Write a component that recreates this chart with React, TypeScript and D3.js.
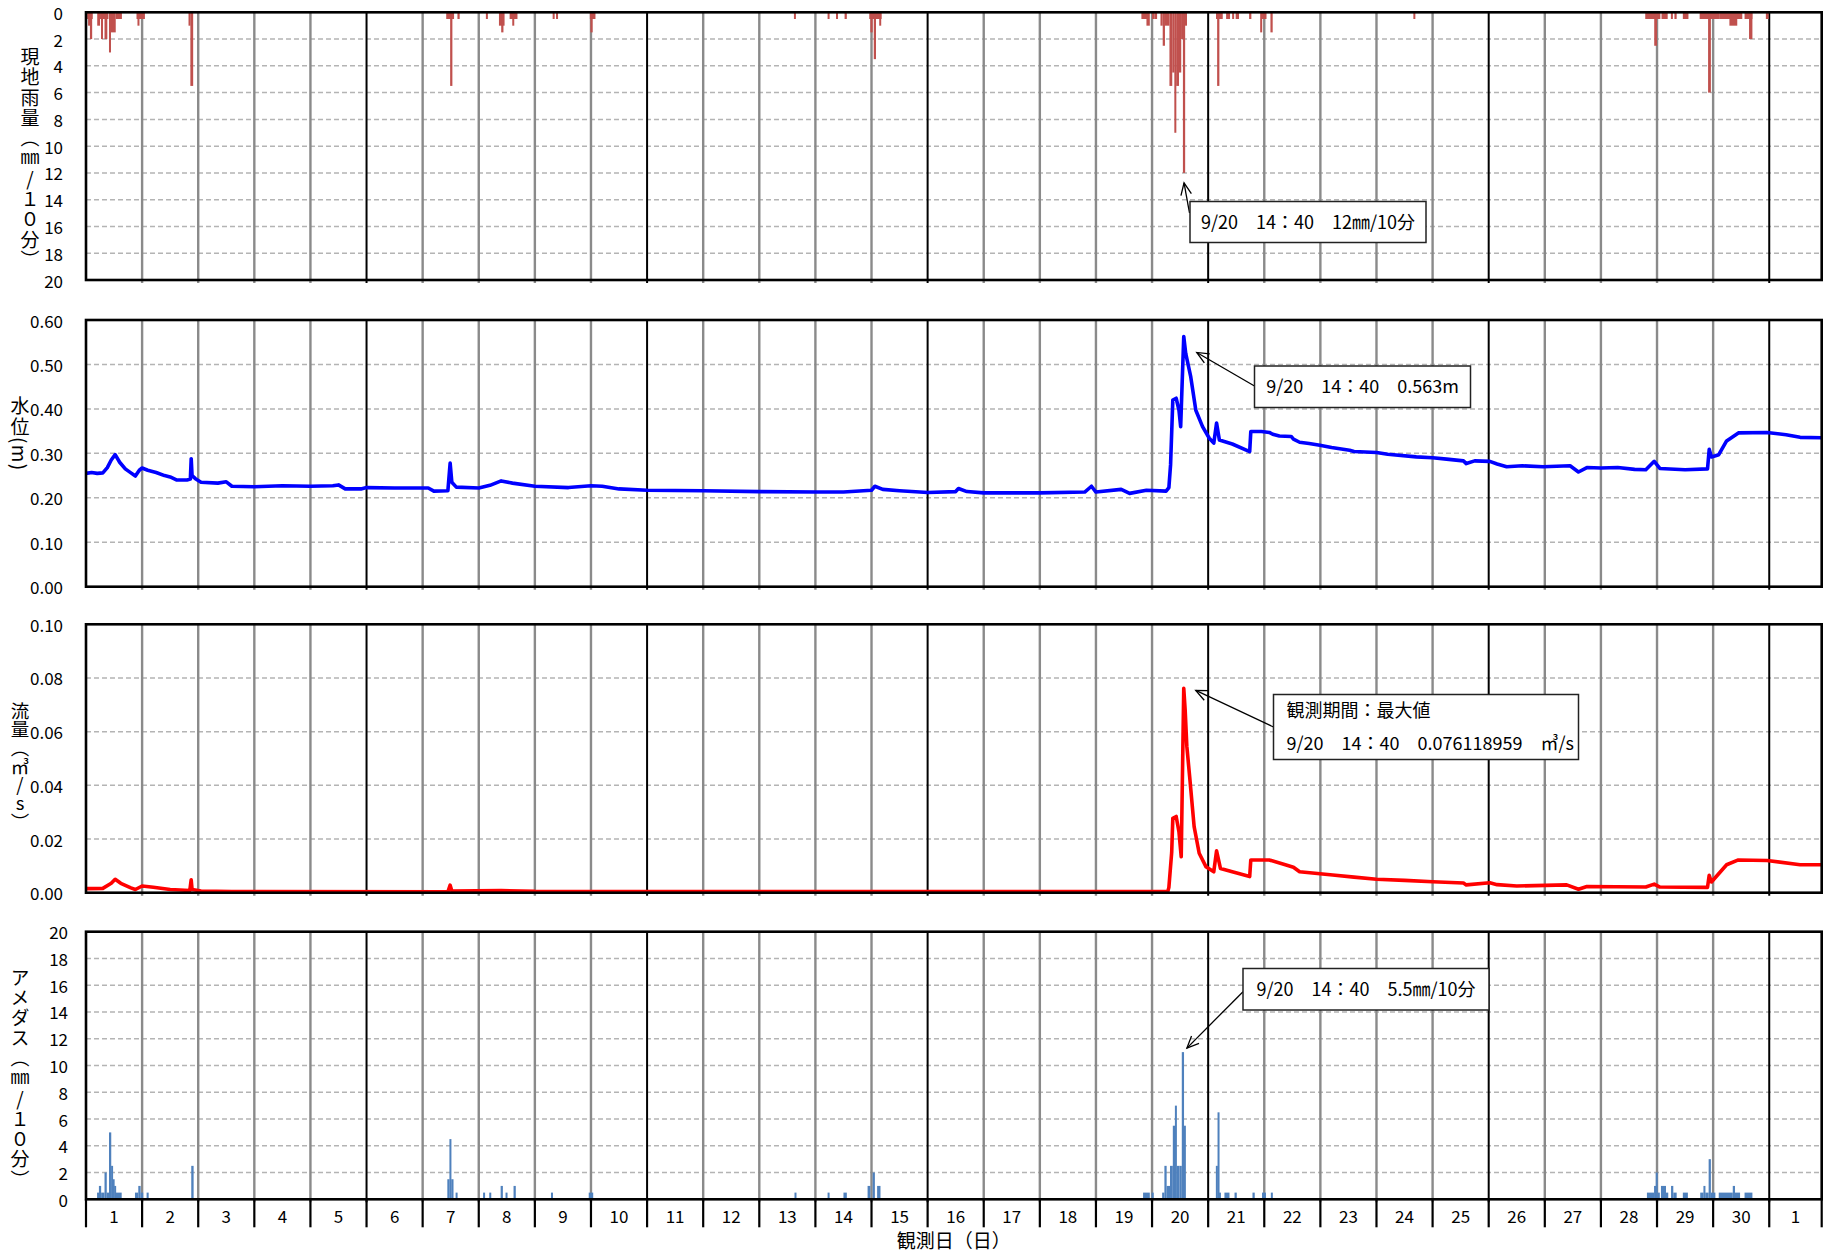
import React from "react";
import * as d3 from "d3";

const FONT = '"Noto Sans CJK JP", "Noto Sans", sans-serif';

// Time is given in elapsed days from 9/1 00:00.
const DAY_LABELS = [
  "1", "2", "3", "4", "5", "6", "7", "8", "9", "10",
  "11", "12", "13", "14", "15", "16", "17", "18", "19", "20",
  "21", "22", "23", "24", "25", "26", "27", "28", "29", "30", "1",
];
const X_END = 30.935; // last sample on 10/1

const RAIN_TICKS = [0, 2, 4, 6, 8, 10, 12, 14, 16, 18, 20];
const LEVEL_TICKS = [0, 0.1, 0.2, 0.3, 0.4, 0.5, 0.6];
const FLOW_TICKS = [0, 0.02, 0.04, 0.06, 0.08, 0.1];
const AMEDAS_TICKS = [0, 2, 4, 6, 8, 10, 12, 14, 16, 18, 20];

// On-site rainfall (mm/10min): [start, end, value]
const RAIN_SITE: [number, number, number][] = [
  [0.02, 0.12, 0.5], [0.04, 0.07, 1.0], [0.07, 0.11, 2.0],
  [0.20, 0.25, 1.0], [0.25, 0.40, 0.5], [0.27, 0.30, 2.0], [0.33, 0.38, 2.0],
  [0.41, 0.445, 3.0], [0.445, 0.53, 1.5], [0.53, 0.64, 0.5],
  [0.90, 1.05, 0.5], [0.92, 0.95, 1.0],
  [1.83, 1.86, 1.0], [1.86, 1.91, 5.5],
  [6.42, 6.56, 0.5], [6.49, 6.53, 5.5], [6.62, 6.66, 0.5],
  [7.13, 7.16, 0.5], [7.36, 7.46, 1.0], [7.40, 7.44, 1.5],
  [7.55, 7.69, 0.5], [7.60, 7.63, 1.0],
  [8.32, 8.35, 0.5], [8.38, 8.41, 0.5],
  [8.98, 9.08, 0.5], [8.99, 9.03, 1.5],
  [12.62, 12.65, 0.5], [13.22, 13.25, 0.5], [13.37, 13.40, 0.5], [13.52, 13.56, 0.5],
  [13.96, 14.18, 0.5], [13.98, 14.02, 1.5], [14.04, 14.08, 3.5], [14.14, 14.17, 1.0],
  [18.81, 18.93, 0.5], [18.90, 18.96, 1.0], [19.00, 19.04, 0.5], [19.04, 19.09, 0.5],
  [19.15, 19.19, 1.0], [19.19, 19.23, 2.5], [19.23, 19.31, 1.0],
  [19.31, 19.36, 5.5], [19.36, 19.40, 4.5], [19.40, 19.43, 9.0],
  [19.43, 19.48, 5.5], [19.48, 19.52, 4.5], [19.52, 19.55, 2.0],
  [19.55, 19.59, 12.0], [19.59, 19.62, 1.0],
  [20.14, 20.26, 0.5], [20.16, 20.20, 5.5],
  [20.32, 20.39, 0.5], [20.43, 20.46, 0.5], [20.49, 20.55, 0.5],
  [20.73, 20.77, 0.5], [20.93, 20.96, 1.5], [20.96, 21.04, 0.5], [21.11, 21.15, 1.5],
  [23.66, 23.69, 0.5],
  [27.79, 28.06, 0.5], [27.95, 28.00, 2.5], [28.08, 28.19, 0.5],
  [28.25, 28.28, 0.5], [28.31, 28.35, 0.5], [28.46, 28.56, 0.5],
  [28.76, 29.12, 0.5], [28.91, 28.96, 6.0],
  [29.12, 29.52, 0.5], [29.29, 29.43, 1.0],
  [29.56, 29.70, 0.5], [29.64, 29.70, 2.0], [29.94, 29.99, 0.5],
];

// Water level (m): [time, value]
const WATER_LEVEL: [number, number][] = [
  [0.0, 0.255], [0.1, 0.257], [0.2, 0.255], [0.3, 0.256], [0.38, 0.268],
  [0.45, 0.285], [0.52, 0.297], [0.6, 0.28], [0.7, 0.265], [0.8, 0.256],
  [0.88, 0.249], [0.95, 0.262], [1.0, 0.267], [1.1, 0.262], [1.25, 0.257],
  [1.4, 0.25], [1.5, 0.247], [1.62, 0.24], [1.8, 0.24], [1.86, 0.242],
  [1.875, 0.288], [1.89, 0.25], [1.95, 0.243], [2.05, 0.235], [2.35, 0.233],
  [2.5, 0.236], [2.6, 0.226], [3.0, 0.225], [3.5, 0.227], [4.0, 0.226], [4.4, 0.227], [4.5, 0.229],
  [4.62, 0.22], [4.9, 0.22], [5.0, 0.223], [5.5, 0.222], [6.1, 0.222], [6.2, 0.215],
  [6.45, 0.216], [6.49, 0.278], [6.52, 0.235], [6.6, 0.224], [7.0, 0.222],
  [7.2, 0.228], [7.4, 0.238], [7.6, 0.233], [8.0, 0.226], [8.6, 0.223],
  [9.0, 0.227], [9.2, 0.226], [9.5, 0.22], [10.0, 0.217], [11.0, 0.216],
  [12.0, 0.214], [13.0, 0.213], [13.5, 0.213], [14.0, 0.217], [14.06, 0.226],
  [14.2, 0.219], [14.5, 0.216], [15.0, 0.212], [15.5, 0.214], [15.55, 0.221],
  [15.7, 0.214], [16.0, 0.211], [17.0, 0.211], [17.8, 0.213], [17.92, 0.226],
  [18.0, 0.213], [18.45, 0.219], [18.6, 0.21], [18.9, 0.217], [19.25, 0.215],
  [19.3, 0.223], [19.33, 0.274], [19.37, 0.42], [19.43, 0.424], [19.48, 0.397],
  [19.51, 0.36], [19.565, 0.563], [19.6, 0.525], [19.69, 0.472], [19.78, 0.397],
  [19.9, 0.36], [20.02, 0.334], [20.1, 0.323], [20.15, 0.368], [20.2, 0.33],
  [20.43, 0.321], [20.74, 0.304], [20.76, 0.349], [20.95, 0.349], [21.09, 0.347],
  [21.15, 0.343], [21.27, 0.339], [21.48, 0.338], [21.52, 0.332], [21.63, 0.325],
  [21.8, 0.322], [21.99, 0.318], [22.2, 0.313], [22.52, 0.307], [22.6, 0.304],
  [23.0, 0.302], [23.2, 0.298], [23.71, 0.292], [24.0, 0.29], [24.25, 0.287],
  [24.55, 0.283], [24.6, 0.277], [24.75, 0.283], [25.02, 0.282], [25.15, 0.276],
  [25.32, 0.27], [25.6, 0.272], [25.97, 0.27], [26.45, 0.272], [26.6, 0.258],
  [26.75, 0.268], [27.0, 0.267], [27.3, 0.268], [27.6, 0.264], [27.8, 0.263],
  [27.95, 0.282], [28.05, 0.266], [28.5, 0.263], [28.9, 0.265], [28.93, 0.309],
  [28.97, 0.292], [29.1, 0.297], [29.24, 0.328], [29.45, 0.346], [29.96, 0.347],
  [30.3, 0.342], [30.55, 0.336], [30.93, 0.335],
];

// Discharge (m3/s): [time, value]
const FLOW: [number, number][] = [
  [0.0, 0.0015], [0.3, 0.0016], [0.45, 0.0035], [0.52, 0.005], [0.62, 0.0035],
  [0.8, 0.0018], [0.88, 0.0012], [1.0, 0.0025], [1.2, 0.002], [1.5, 0.0012],
  [1.85, 0.0008], [1.875, 0.0048], [1.89, 0.0012], [2.05, 0.0006], [2.6, 0.0004],
  [6.45, 0.0003], [6.49, 0.0028], [6.52, 0.0006], [7.4, 0.0008], [8.0, 0.0005],
  [19.28, 0.0004], [19.3, 0.002], [19.35, 0.015], [19.37, 0.0277], [19.43, 0.0284],
  [19.48, 0.0226], [19.52, 0.0134], [19.565, 0.076118959], [19.59, 0.0681],
  [19.62, 0.0545], [19.67, 0.0433], [19.75, 0.0246], [19.84, 0.0147], [19.96, 0.0097],
  [20.1, 0.0078], [20.15, 0.0156], [20.22, 0.009], [20.43, 0.0078], [20.74, 0.006],
  [20.76, 0.0122], [20.95, 0.0122], [21.09, 0.0122], [21.39, 0.0103], [21.52, 0.0095],
  [21.63, 0.0078], [22.22, 0.0066], [22.6, 0.0058], [23.0, 0.005], [23.5, 0.0046],
  [24.0, 0.0041], [24.55, 0.0036], [24.6, 0.0029], [25.02, 0.0037], [25.15, 0.003],
  [25.5, 0.0025], [26.39, 0.0029], [26.6, 0.0013], [26.75, 0.0023], [27.8, 0.0021],
  [27.95, 0.0032], [28.05, 0.0021], [28.9, 0.002], [28.93, 0.0065], [28.97, 0.004],
  [29.24, 0.0104], [29.45, 0.0122], [29.96, 0.012], [30.55, 0.0104], [30.93, 0.0104],
];

// AMeDAS rainfall (mm/10min): [start, end, value]
const AMEDAS: [number, number, number][] = [
  [0.20, 0.23, 0.5], [0.23, 0.27, 1.0], [0.27, 0.33, 0.5], [0.33, 0.37, 2.0],
  [0.37, 0.41, 0.5], [0.41, 0.45, 5.0], [0.45, 0.48, 2.5], [0.48, 0.505, 1.5],
  [0.505, 0.534, 1.0], [0.534, 0.636, 0.5],
  [0.873, 0.932, 0.5], [0.932, 0.974, 1.0], [0.974, 1.02, 0.5], [1.08, 1.117, 0.5],
  [1.876, 1.918, 2.5],
  [6.44, 6.48, 1.5], [6.48, 6.51, 4.5], [6.51, 6.55, 1.5], [6.59, 6.62, 0.5],
  [7.08, 7.11, 0.5], [7.19, 7.22, 0.5], [7.39, 7.43, 1.0], [7.48, 7.51, 0.5],
  [7.62, 7.66, 1.0], [8.29, 8.32, 0.5], [8.96, 9.04, 0.5],
  [12.63, 12.66, 0.5], [13.22, 13.25, 0.5], [13.5, 13.56, 0.5],
  [13.93, 13.98, 1.0], [14.02, 14.06, 2.0], [14.1, 14.16, 1.0],
  [18.84, 18.96, 0.5], [18.99, 19.03, 0.5], [19.18, 19.22, 0.5], [19.22, 19.26, 2.5],
  [19.26, 19.32, 1.0], [19.32, 19.37, 2.5], [19.37, 19.41, 5.5], [19.41, 19.44, 7.0],
  [19.44, 19.49, 2.5], [19.49, 19.53, 2.5], [19.53, 19.57, 11.0], [19.57, 19.6, 5.5],
  [20.14, 20.17, 2.5], [20.17, 20.2, 6.5], [20.2, 20.22, 0.5], [20.29, 20.38, 0.5],
  [20.47, 20.51, 0.5], [20.79, 20.83, 0.5], [20.96, 21.03, 0.5], [21.12, 21.15, 0.5],
  [27.82, 27.95, 0.5], [27.95, 27.98, 1.0], [27.98, 28.01, 2.0], [28.01, 28.05, 0.5],
  [28.07, 28.16, 1.0], [28.16, 28.2, 0.5], [28.25, 28.29, 1.0], [28.29, 28.35, 0.5],
  [28.46, 28.55, 0.5], [28.77, 28.83, 0.5], [28.83, 28.86, 1.0], [28.86, 28.92, 0.5],
  [28.92, 28.96, 3.0], [28.96, 29.04, 0.5], [29.1, 29.35, 0.5], [29.35, 29.39, 1.0],
  [29.39, 29.48, 0.5], [29.56, 29.7, 0.5],
];

const PEAK_T = 19.565;

const LEFT = 86;
const RIGHT = 1821.7;
const PANELS = {
  rain: { top: 12.3, bottom: 280 },
  level: { top: 320, bottom: 586.7 },
  flow: { top: 624.3, bottom: 892.7 },
  amedas: { top: 931.7, bottom: 1199.3 },
};

const xs = d3.scaleLinear().domain([0, X_END]).range([LEFT, RIGHT]);
const yRain = d3.scaleLinear().domain([0, 20]).range([PANELS.rain.top, PANELS.rain.bottom]);
const yLevel = d3.scaleLinear().domain([0, 0.6]).range([PANELS.level.bottom, PANELS.level.top]);
const yFlow = d3.scaleLinear().domain([0, 0.1]).range([PANELS.flow.bottom, PANELS.flow.top]);
const yAmedas = d3.scaleLinear().domain([0, 20]).range([PANELS.amedas.bottom, PANELS.amedas.top]);

const dayBounds = d3.range(1, 31);

// Vertical axis title, typeset top-to-bottom.
function VLabel({
  x, y, text, size = 19, spacing = 1.3, orientation = "upright",
}: { x: number; y: number; text: string; size?: number; spacing?: number; orientation?: "upright" | "mixed" }) {
  return (
    <text
      x={x}
      y={y}
      fontFamily={FONT}
      fontSize={size}
      fill="#000"
      textAnchor="middle"
      letterSpacing={spacing}
      style={{ writingMode: "vertical-rl", textOrientation: orientation } as React.CSSProperties}
    >
      {text}
    </text>
  );
}

function Grid({ top, bottom, y, ticks }: { top: number; bottom: number; y: (v: number) => number; ticks: number[] }) {
  return (
    <g>
      {ticks.slice(1, -1).map((t) => (
        <line key={"h" + t} x1={LEFT} x2={RIGHT} y1={y(t)} y2={y(t)} stroke="#b4b4b4" strokeWidth={1.5} strokeDasharray="5 3" />
      ))}
      {dayBounds.map((d) => (
        <line
          key={"v" + d}
          x1={xs(d)}
          x2={xs(d)}
          y1={top}
          y2={bottom + 3}
          stroke={d % 5 === 0 ? "#000" : "#8a8a8a"}
          strokeWidth={d % 5 === 0 ? 2 : 2.4}
        />
      ))}
    </g>
  );
}

function Frame({ top, bottom }: { top: number; bottom: number }) {
  return <rect x={LEFT} y={top} width={RIGHT - LEFT} height={bottom - top} fill="none" stroke="#000" strokeWidth={2.6} />;
}

function YTicks({ ticks, y, fmt, right }: { ticks: number[]; y: (v: number) => number; fmt: (v: number) => string; right: number }) {
  return (
    <g fontFamily={FONT} fontSize={17} fill="#000">
      {ticks.map((t) => (
        <text key={t} x={right} y={y(t)} textAnchor="end" dominantBaseline="central">
          {fmt(t)}
        </text>
      ))}
    </g>
  );
}

function Arrow({ from, to }: { from: [number, number]; to: [number, number] }) {
  const ang = Math.atan2(to[1] - from[1], to[0] - from[0]);
  const len = 13;
  const spread = 0.42;
  const a1: [number, number] = [to[0] - len * Math.cos(ang - spread), to[1] - len * Math.sin(ang - spread)];
  const a2: [number, number] = [to[0] - len * Math.cos(ang + spread), to[1] - len * Math.sin(ang + spread)];
  return (
    <g stroke="#000" strokeWidth={1.3} fill="none">
      <line x1={from[0]} y1={from[1]} x2={to[0]} y2={to[1]} />
      <polyline points={`${a1[0]},${a1[1]} ${to[0]},${to[1]} ${a2[0]},${a2[1]}`} />
    </g>
  );
}

function Callout({ x, y, w, h, lines, anchor = "middle" }: { x: number; y: number; w: number; h: number; lines: string[]; anchor?: "middle" | "start" }) {
  const tx = anchor === "middle" ? x + w / 2 : x + 13;
  const step = h / lines.length;
  return (
    <g>
      <rect x={x} y={y} width={w} height={h} fill="#fff" stroke="#222" strokeWidth={1.5} />
      {lines.map((l, i) => (
        <text key={i} x={tx} y={y + step * (i + 0.5) + 6.5} fontFamily={FONT} fontSize={18} fill="#000" textAnchor={anchor}>
          {l}
        </text>
      ))}
    </g>
  );
}

export default function App() {
  const levelLine = d3.line<[number, number]>().x((d) => xs(d[0])).y((d) => yLevel(d[1]));
  const flowLine = d3.line<[number, number]>().x((d) => xs(d[0])).y((d) => yFlow(d[1]));
  const barX = (s: number, e: number) => {
    const w = Math.max(xs(e) - xs(s), 2);
    return { x: (xs(s) + xs(e)) / 2 - w / 2, w };
  };
  const fmt2 = d3.format(".2f");
  const fmt0 = d3.format("d");

  const rainPeak = RAIN_SITE.reduce((a, b) => (b[2] > a[2] ? b : a));
  const amedasPeak = AMEDAS.reduce((a, b) => (b[2] > a[2] ? b : a));

  return (
    <svg width={1830} height={1253} style={{ position: "absolute", left: 0, top: 0, background: "#fff" }}>
      <rect width={1830} height={1253} fill="#fff" />

      {/* Panel 1: on-site rainfall, reversed axis */}
      <Grid {...PANELS.rain} y={yRain} ticks={RAIN_TICKS} />
      <g fill="#C0504D">
        {RAIN_SITE.map(([s, e, v], i) => {
          const b = barX(s, e);
          return <rect key={i} x={b.x} y={yRain(0)} width={b.w} height={yRain(v) - yRain(0)} />;
        })}
      </g>
      <Frame {...PANELS.rain} />
      <YTicks ticks={RAIN_TICKS} y={yRain} fmt={fmt0} right={63} />
      <VLabel x={30} y={159} text="現地雨量（㎜/１０分）" />
      <Arrow from={[1189.5, 213]} to={[xs((rainPeak[0] + rainPeak[1]) / 2), yRain(rainPeak[2]) + 10]} />
      <Callout x={1190} y={201.5} w={236} h={41} lines={["9/20　14：40　12㎜/10分"]} />

      {/* Panel 2: water level */}
      <Grid {...PANELS.level} y={yLevel} ticks={LEVEL_TICKS} />
      <path d={levelLine(WATER_LEVEL) ?? ""} fill="none" stroke="#0000FF" strokeWidth={3.6} strokeLinejoin="round" />
      <Frame {...PANELS.level} />
      <YTicks ticks={LEVEL_TICKS} y={yLevel} fmt={fmt2} right={63} />
      <VLabel x={20} y={434} text="水位(m)" orientation="mixed" />
      <Arrow from={[1254.5, 386]} to={[xs(PEAK_T) + 13, yLevel(0.563) + 16]} />
      <Callout x={1254.5} y={366} w={216} h={41.5} lines={["9/20　14：40　0.563m"]} />

      {/* Panel 3: discharge */}
      <Grid {...PANELS.flow} y={yFlow} ticks={FLOW_TICKS} />
      <path d={flowLine(FLOW) ?? ""} fill="none" stroke="#FF0000" strokeWidth={3.6} strokeLinejoin="round" />
      <Frame {...PANELS.flow} />
      <YTicks ticks={FLOW_TICKS} y={yFlow} fmt={fmt2} right={63} />
      <VLabel x={20} y={766} text="流量（㎥/s）" size={18.5} spacing={0} />
      <Arrow from={[1273.5, 727]} to={[xs(PEAK_T) + 12, yFlow(0.076118959) + 2]} />
      <Callout x={1273.5} y={694.5} w={305} h={65} anchor="start" lines={["観測期間：最大値", "9/20　14：40　0.076118959　㎥/s"]} />

      {/* Panel 4: AMeDAS rainfall */}
      <Grid {...PANELS.amedas} y={yAmedas} ticks={AMEDAS_TICKS} />
      <g fill="#4F81BD">
        {AMEDAS.map(([s, e, v], i) => {
          const b = barX(s, e);
          return <rect key={i} x={b.x} y={yAmedas(v)} width={b.w} height={yAmedas(0) - yAmedas(v)} />;
        })}
      </g>
      <Frame {...PANELS.amedas} />
      <YTicks ticks={AMEDAS_TICKS} y={yAmedas} fmt={fmt0} right={68} />
      <VLabel x={20} y={1079} text="アメダス（㎜/１０分）" spacing={1.2} />
      <Arrow from={[1243, 991.7]} to={[xs((amedasPeak[0] + amedasPeak[1]) / 2) + 4, yAmedas(amedasPeak[2]) - 4]} />
      <Callout x={1243} y={968.5} w={246} h={41.5} lines={["9/20　14：40　5.5㎜/10分"]} />

      {/* X axis */}
      <g stroke="#000" strokeWidth={2.2}>
        {[0, ...dayBounds, X_END].map((d, i) => (
          <line key={i} x1={xs(d)} x2={xs(d)} y1={PANELS.amedas.bottom} y2={PANELS.amedas.bottom + 28} />
        ))}
      </g>
      <g fontFamily={FONT} fontSize={17} fill="#000" textAnchor="middle">
        {DAY_LABELS.map((lab, i) => {
          const c = i < 30 ? xs(i + 0.5) : xs((30 + X_END) / 2);
          return (
            <text key={i} x={c} y={PANELS.amedas.bottom + 16} dominantBaseline="central">
              {lab}
            </text>
          );
        })}
      </g>
      <text x={(LEFT + RIGHT) / 2} y={1239} fontFamily={FONT} fontSize={19} textAnchor="middle" dominantBaseline="central">
        観測日（日）
      </text>
    </svg>
  );
}
